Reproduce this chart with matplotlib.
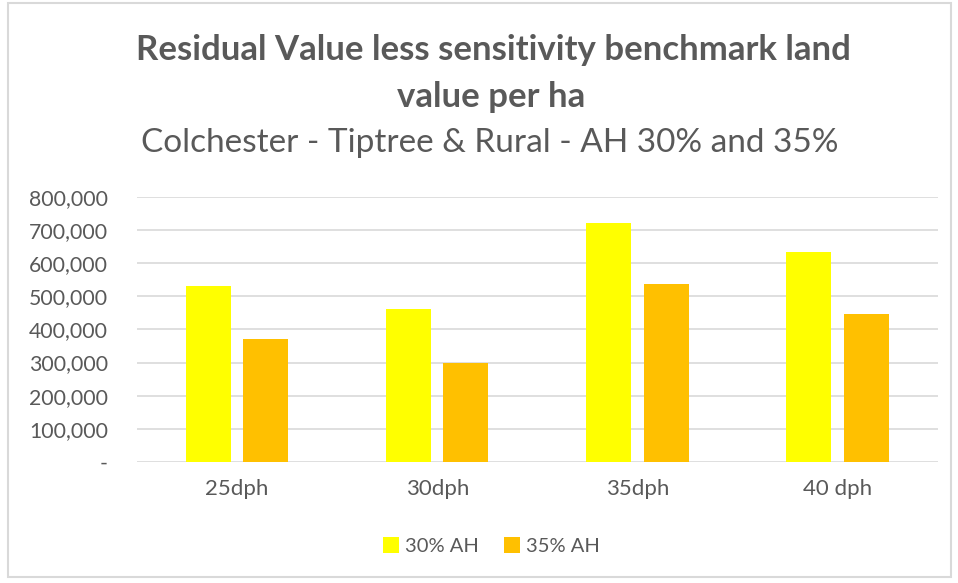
import matplotlib
matplotlib.use("Agg")
import matplotlib.pyplot as plt
from matplotlib.ticker import FuncFormatter, MultipleLocator
from matplotlib.patches import Rectangle
import numpy as np

categories = ["25dph", "30dph", "35dph", "40 dph"]
ah30 = [530000, 461000, 720000, 632000]
ah35 = [372000, 299000, 538000, 446000]
series_names = ["30% AH", "35% AH"]
title_line1 = "Residual Value less sensitivity benchmark land"
title_line2 = "value per ha"
title_sub = "Colchester - Tiptree & Rural - AH 30% and 35%"

plt.rcParams['font.family'] = ['Lato', 'DejaVu Sans']
gray = "#595959"

fig = plt.figure(figsize=(9.58, 5.83), dpi=100)
fig.patches.append(Rectangle((0.008, 0.01), 0.985, 0.985, transform=fig.transFigure,
                             fill=False, edgecolor="#d9d9d9", linewidth=1.5))
ax = fig.add_axes([0.143, 0.2075, 0.836, 0.455])

x = np.arange(len(categories))
w = 0.225
ax.bar(x - 0.145, ah30, width=w, color="#FFFF00", label=series_names[0], zorder=3)
ax.bar(x + 0.143, ah35, width=w, color="#FFC000", label=series_names[1], zorder=3)

ax.set_xlim(-0.5, len(categories) - 0.5)
ax.set_ylim(0, 800000)
ax.yaxis.set_major_locator(MultipleLocator(100000))
ax.yaxis.set_major_formatter(FuncFormatter(lambda v, p: "-" if v == 0 else f"{int(v):,}"))
ax.grid(axis="y", color="#d9d9d9", linewidth=1.2, zorder=0)
for s in ax.spines.values():
    s.set_visible(False)
ax.tick_params(axis="both", length=0, labelcolor=gray)
ax.tick_params(axis="y", pad=21, labelsize=15.3)
ax.tick_params(axis="x", pad=12, labelsize=16)
ax.set_xticks(x)
ax.set_xticklabels(categories)

fig.text(0.515, 0.914, title_line1, ha="center", va="center", fontsize=25,
         fontweight="bold", color=gray)
fig.text(0.513, 0.834, title_line2, ha="center", va="center", fontsize=25,
         fontweight="bold", color=gray)
fig.text(0.511, 0.755, title_sub, ha="center", va="center", fontsize=24, color=gray)

fig.legend(loc="center", bbox_to_anchor=(0.513, 0.063), ncol=2, frameon=False,
           fontsize=14.5, labelcolor=gray, handlelength=0.8, handleheight=0.8,
           handletextpad=0.3, columnspacing=1.2)

fig.savefig("out.png", dpi=100)
